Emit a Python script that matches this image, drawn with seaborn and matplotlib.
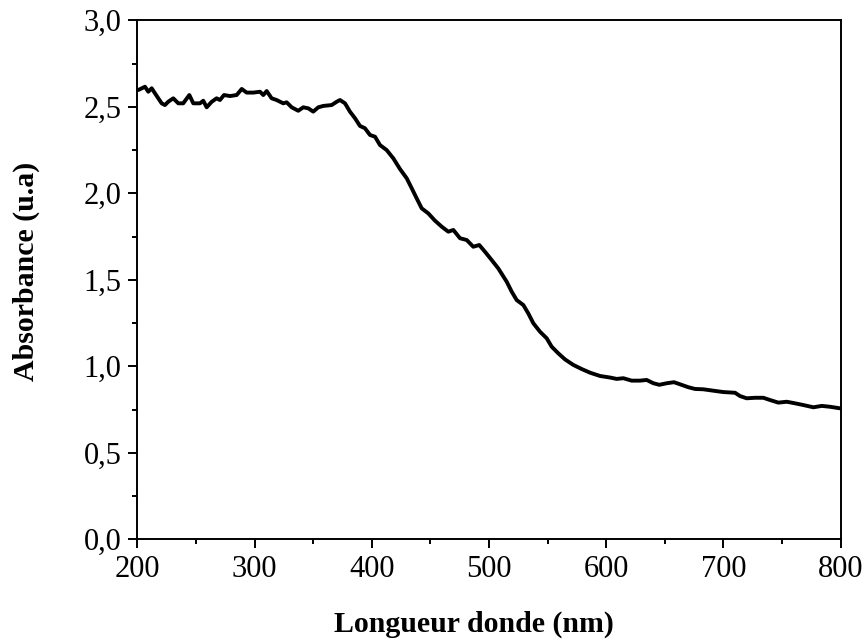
import numpy as np
import pandas as pd
import matplotlib.pyplot as plt
import seaborn as sns
from matplotlib.ticker import FuncFormatter, MultipleLocator

longueur_onde = [
    200.9, 206.6, 209.4, 212.3, 215.1, 220.8, 223.6, 226.4, 230.7, 235.0,
    239.2, 244.4, 247.8, 253.5, 256.3, 259.2, 263.5, 267.7, 270.5, 274.0,
    279.1, 284.8, 289.1, 293.3, 299.0, 304.7, 307.5, 310.4, 314.6, 318.9,
    324.5, 327.4, 331.7, 337.3, 341.6, 345.9, 350.1, 354.4, 358.7, 365.8,
    370.1, 372.9, 377.2, 381.4, 385.7, 390.0, 394.2, 398.5, 402.8, 407.0,
    412.7, 418.4, 424.1, 429.8, 434.1, 438.3, 442.6, 448.2, 453.9, 459.7,
    465.3, 469.6, 475.3, 481.0, 486.6, 491.7, 496.6, 502.3, 507.9, 515.1,
    519.4, 523.6, 529.3, 533.5, 537.8, 543.5, 549.2, 553.5, 559.1, 564.8,
    571.9, 579.1, 586.2, 594.7, 603.2, 608.9, 614.6, 621.7, 628.8, 634.5,
    640.2, 645.3, 651.6, 657.8, 662.9, 670.0, 675.7, 682.8, 691.3, 699.9,
    709.9, 714.1, 719.8, 726.9, 734.0, 739.7, 746.8, 754.0, 761.0, 768.1,
    776.7, 783.8, 790.9, 799.4,
]
absorbance = [
    2.597, 2.616, 2.587, 2.607, 2.578, 2.520, 2.510, 2.529, 2.549, 2.520,
    2.520, 2.568, 2.520, 2.520, 2.535, 2.497, 2.529, 2.549, 2.539, 2.568,
    2.562, 2.568, 2.603, 2.582, 2.582, 2.587, 2.568, 2.591, 2.549, 2.539,
    2.520, 2.526, 2.497, 2.477, 2.497, 2.491, 2.472, 2.497, 2.505, 2.510,
    2.529, 2.539, 2.520, 2.472, 2.434, 2.389, 2.376, 2.337, 2.327, 2.279,
    2.250, 2.202, 2.140, 2.087, 2.029, 1.971, 1.913, 1.884, 1.842, 1.807,
    1.778, 1.788, 1.740, 1.730, 1.691, 1.701, 1.662, 1.614, 1.566, 1.489,
    1.431, 1.383, 1.354, 1.306, 1.249, 1.200, 1.162, 1.113, 1.075, 1.040,
    1.008, 0.984, 0.963, 0.944, 0.935, 0.927, 0.931, 0.917, 0.917, 0.921,
    0.902, 0.893, 0.902, 0.908, 0.896, 0.879, 0.869, 0.867, 0.859, 0.851,
    0.847, 0.828, 0.815, 0.818, 0.818, 0.805, 0.790, 0.795, 0.786, 0.776,
    0.763, 0.771, 0.766, 0.757,
]

df = pd.DataFrame({'nm': longueur_onde, 'abs': absorbance})

sns.set_style('ticks')
plt.rcParams['font.family'] = ['Liberation Serif', 'DejaVu Serif']
plt.rcParams['text.color'] = 'black'
plt.rcParams['axes.labelcolor'] = 'black'

fig = plt.figure(figsize=(8.66, 6.44), dpi=100)
ax = fig.add_axes([0.1585, 0.1626, 0.8123, 0.8059])

sns.lineplot(data=df, x='nm', y='abs', color='black', linewidth=2.8, ax=ax)

ax.set_xlim(200, 800)
ax.set_ylim(0, 3.0)
ax.xaxis.set_major_locator(MultipleLocator(100))
ax.xaxis.set_minor_locator(MultipleLocator(50))
ax.yaxis.set_major_locator(MultipleLocator(0.5))
ax.yaxis.set_minor_locator(MultipleLocator(0.25))
ax.yaxis.set_major_formatter(FuncFormatter(lambda v, p: f'{v:.1f}'.replace('.', ',')))

for s in ax.spines.values():
    s.set_linewidth(1.4)
    s.set_color('black')
ax.tick_params(which='major', direction='out', length=6.5, width=1.4,
               labelsize=22, colors='black', labelcolor='black', pad=5)
ax.tick_params(which='minor', direction='out', length=3.5, width=1.4, colors='black')

ax.set_xlabel('Longueur donde (nm)', fontsize=21.5, fontweight='bold')
ax.set_ylabel('Absorbance (u.a)', fontsize=21.5, fontweight='bold')
ax.xaxis.set_label_coords(0.479, -0.138)
ax.yaxis.set_label_coords(-0.138, 0.5156)

fig.savefig('out.png', dpi=100)
